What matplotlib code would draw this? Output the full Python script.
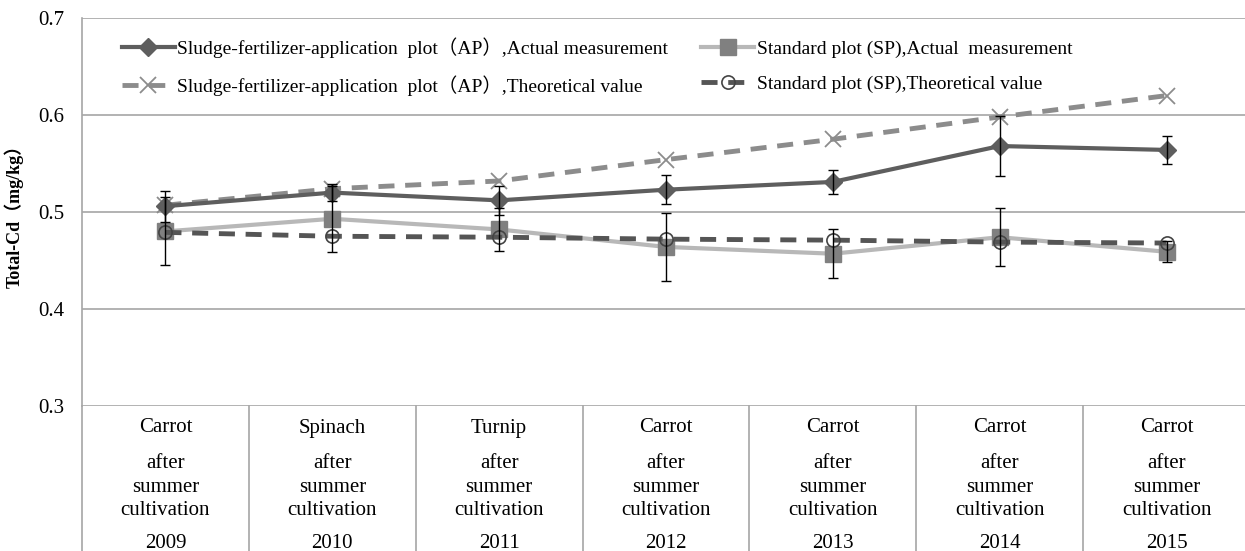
import matplotlib
matplotlib.use("Agg")
import matplotlib.pyplot as plt
import matplotlib.transforms as mtransforms

plt.rcParams['font.family'] = ['Liberation Serif', 'Noto Sans CJK SC']

# data
years = ["2009", "2010", "2011", "2012", "2013", "2014", "2015"]
crops = ["Carrot", "Spinach", "Turnip", "Carrot", "Carrot", "Carrot", "Carrot"]
season = "after\nsummer\ncultivation"

ap_actual = [0.506, 0.520, 0.512, 0.523, 0.531, 0.568, 0.564]
ap_err = [0.016, 0.009, 0.015, 0.015, 0.012, 0.031, 0.014]
ap_theory = [0.507, 0.524, 0.532, 0.554, 0.575, 0.598, 0.620]
sp_actual = [0.480, 0.493, 0.482, 0.464, 0.457, 0.474, 0.459]
sp_err = [0.035, 0.034, 0.022, 0.035, 0.025, 0.030, 0.011]
sp_theory = [0.479, 0.475, 0.474, 0.472, 0.471, 0.469, 0.468]

W, H = 1245, 551
fig = plt.figure(figsize=(W / 100, H / 100), dpi=100)
ax_left, ax_right, ax_top, ax_bottom = 82, 1250, 18, 406
ax = fig.add_axes([ax_left / W, 1 - ax_bottom / H, (ax_right - ax_left) / W, (ax_bottom - ax_top) / H])

x = list(range(1, len(years) + 1))
grid_c = "#a6a6a6"

l1, = ax.plot(x, ap_actual, color="#5e5e5e", lw=3, marker="D", ms=9,
              label="Sludge-fertilizer-application  plot（AP）,Actual measurement", zorder=4)
l2, = ax.plot(x, ap_theory, color="#8c8c8c", lw=3.5, ls=(0, (3.3, 2.2)), marker="x", ms=11,
              mew=1.3, mec="#8c8c8c",
              label="Sludge-fertilizer-application  plot（AP）,Theoretical value", zorder=3)
l3, = ax.plot(x, sp_actual, color="#b8b8b8", lw=3, marker="s", ms=11, mfc="#808080", mec="#808080",
              label="Standard plot (SP),Actual  measurement", zorder=3)
l4, = ax.plot(x, sp_theory, color="#555555", lw=3.5, ls=(0, (3.3, 2.2)), marker="o", ms=9.5,
              mfc="none", mec="#444444", mew=1.2,
              label="Standard plot (SP),Theoretical value", zorder=5)

ax.errorbar(x, ap_actual, yerr=ap_err, fmt="none", ecolor="black", elinewidth=1, capsize=3.5, capthick=1, zorder=6)
ax.errorbar(x, sp_actual, yerr=sp_err, fmt="none", ecolor="black", elinewidth=1, capsize=3.5, capthick=1, zorder=6)

ax.set_xlim(0.5, len(years) + 0.5)
ax.set_ylim(0.3, 0.7)
ax.set_yticks([0.3, 0.4, 0.5, 0.6, 0.7])
ax.set_yticklabels(["0.3", "0.4", "0.5", "0.6", "0.7"])
ax.set_xticks([])
ax.tick_params(axis="y", length=0, pad=13, labelsize=15)
ax.yaxis.grid(True, color=grid_c, lw=1.2)
ax.set_axisbelow(True)
for s in ["right", "bottom", "top"]:
    ax.spines[s].set_visible(False)
ax.spines["left"].set_color(grid_c)
ax.spines["left"].set_linewidth(1.2)

ax.set_ylabel("Total-Cd（mg/kg）", fontsize=13, fontweight="bold", labelpad=10)

# category table under the axis
trans = mtransforms.blended_transform_factory(ax.transData, ax.transAxes)
depth = (H - ax_bottom) / (ax_bottom - ax_top)
for i in range(len(years) + 1):
    ax.plot([0.5 + i, 0.5 + i], [0, -depth - 0.01], color=grid_c, lw=1.2, transform=trans, clip_on=False)

def yfrac(py):
    return (ax_bottom - py) / (ax_bottom - ax_top)

for xi, crop, yr in zip(x, crops, years):
    ax.text(xi, yfrac(428), crop, transform=trans, ha="center", va="center", fontsize=15)
    ax.text(xi, yfrac(487), season, transform=trans, ha="center", va="center", fontsize=15, linespacing=1.3)
    ax.text(xi, yfrac(543), yr, transform=trans, ha="center", va="center", fontsize=15)

fig.legend(handles=[l1, l2, l3, l4], ncol=2, loc="upper left",
           bbox_to_anchor=(122 / W, 1 - 37 / H), bbox_transform=fig.transFigure,
           frameon=False, fontsize=14, borderpad=0, borderaxespad=0,
           handlelength=2.7, handletextpad=0.15, columnspacing=1.7, labelspacing=0.9)

fig.savefig("out.png", dpi=100)
